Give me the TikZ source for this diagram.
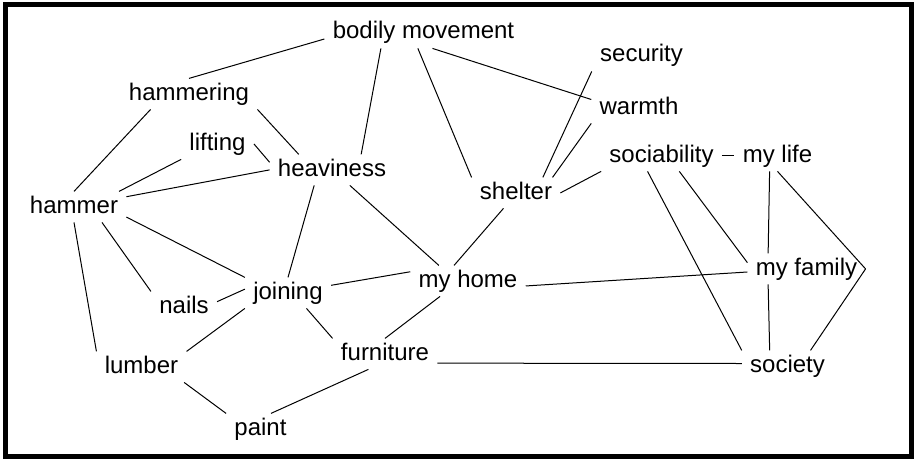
\documentclass[tikz,border=0pt]{standalone}
\usepackage{fontspec}
\setmainfont{Liberation Sans}

\begin{document}
\begin{tikzpicture}[
    x=0.5pt, y=-0.5pt,
    concept/.style={
        anchor=base,
        inner xsep=4pt, inner ysep=2pt,
        text height=8.6pt, text depth=2.5pt,
        font=\fontsize{12pt}{14pt}\selectfont
    },
    link/.style={line width=0.5pt},
    frame/.style={line width=2.5pt},
]
\useasboundingbox (0,0) rectangle (914,460);

% Outer frame
\draw[frame] (5.5,4.5) rectangle (911.5,456.5);

% Left cluster: tools and weight
\node[concept] (body)      at (423.5,39) {bodily movement};
\node[concept] (hammering) at (189,100)  {hammering};
\node[concept] (lifting)   at (217.5,150) {lifting};
\node[concept] (heaviness) at (332,176)  {heaviness};
\node[concept] (hammer)    at (74,213)   {hammer};
\node[concept] (joining)   at (288,299)  {joining};
\node[concept] (nails)     at (184,313)  {nails};
\node[concept] (lumber)    at (141.5,373) {lumber};
\node[concept] (furniture) at (385,360)  {furniture};
\node[concept] (paint)     at (260.5,435) {paint};

% Right cluster: home and people
\node[concept] (security)    at (641.5,62) {security};
\node[concept] (warmth)      at (639,114)  {warmth};
\node[concept] (sociability) at (661.5,162) {sociability};
\node[concept] (mylife)      at (777.5,162) {my life};
\node[concept] (shelter)     at (516,199)  {shelter};
\node[concept] (myhome)      at (468,287)  {my home};
\node[concept] (myfamily)    at (806.5,275) {my family};
\node[concept] (society)     at (787.5,372) {society};

% Links from bodily movement
\draw[link] (body.base west) -- (hammering.north);
\draw[link] (body.200) -- (heaviness.28);
\draw[link] (body.250) -- (shelter.north west);
\draw[link] (body.300) -- (warmth.170);

% Links round hammer
\draw[link] (hammering.south east) -- (heaviness.155);
\draw[link] (hammering.202) -- (hammer.north);
\draw[link] (lifting.south west) -- (hammer.19);
\draw[link] (lifting.east) -- (heaviness.173);
\draw[link] (heaviness.west) -- (hammer.11);
\draw[link] (heaviness.221) -- (joining.north);
\draw[link] (heaviness.319) -- (myhome.152);
\draw[link] (hammer.349) -- (joining.north west);
\draw[link] (hammer.331) -- (nails.north west);
\draw[link] (hammer.south) -- (lumber.north west);

% Links round shelter
\draw[link] (security.south west) -- (shelter.30);
\draw[link] (warmth.south west) -- (shelter.23);
\draw[link] (sociability.south west) -- (shelter.east);
\draw[link] (shelter.231) -- (myhome.132);

% Links round sociability and family
\draw[link] (sociability.east) -- (mylife.west);
\draw[link] (sociability.228) -- (society.north west);
\draw[link] (sociability.319) -- (myfamily.174);
\draw[link] (mylife.243) -- (myfamily.158);
\draw[link] (myfamily.202) -- (society.139);
\draw[link] (mylife.south) -- (myfamily.east);
\draw[link] (myfamily.east) -- (society.34);

% Links round joining and home
\draw[link] (joining.10) -- (myhome.171);
\draw[link] (myhome.355) -- (myfamily.183);
\draw[link] (myhome.209) -- (furniture.north);
\draw[link] (joining.320) -- (furniture.north west);
\draw[link] (joining.175) -- (nails.9);
\draw[link] (joining.south west) -- (lumber.north east);

% Bottom row
\draw[link] (lumber.340) -- (paint.north west);
\draw[link] (furniture.223) -- (paint.56);
\draw[link] (furniture.350) -- (society.177);

\end{tikzpicture}
\end{document}
